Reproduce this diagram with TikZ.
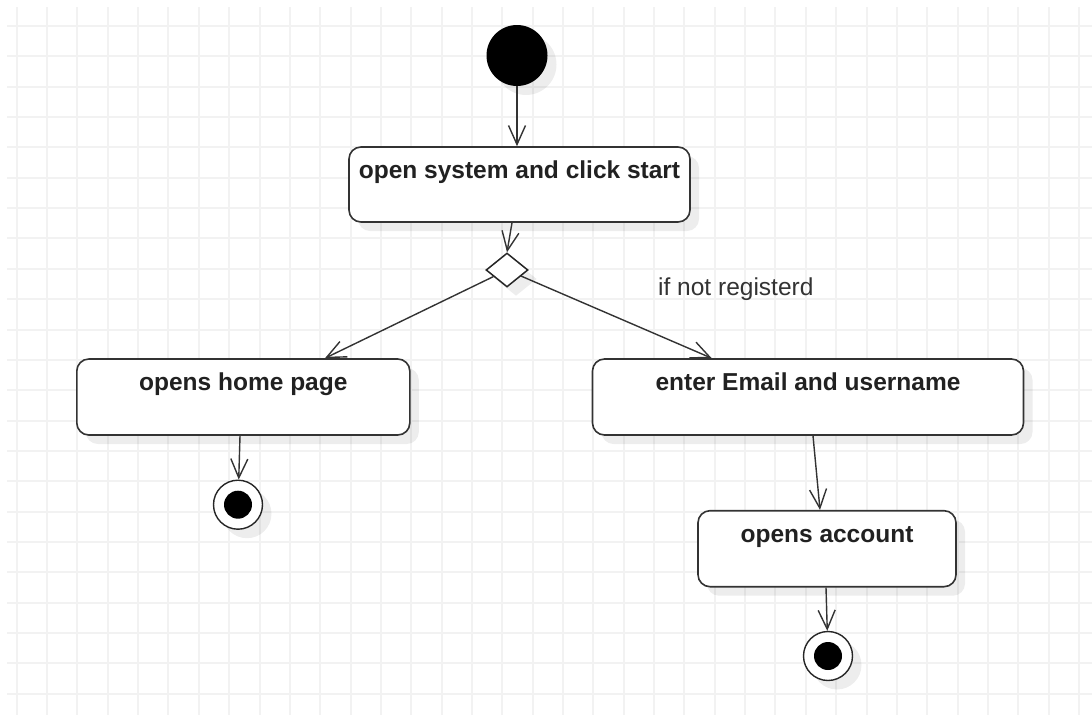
\documentclass[tikz,border=0pt]{standalone}
\usepackage{fontspec}
\setmainfont{Liberation Sans}
\usetikzlibrary{arrows.meta,shapes.geometric,shadows}

\begin{document}
\begin{tikzpicture}[x=1pt,y=-1pt,
  gridline/.style={draw=gray!10, line width=1.4pt},
  softshadow/.style={drop shadow={shadow xshift=9pt, shadow yshift=-9pt, fill=black, opacity=0.07}},
  activity/.style={draw=black!80, line width=1.6pt, rounded corners=12pt, fill=white, softshadow, inner sep=0pt},
  lbl/.style={font=\bfseries\fontsize{24.5}{29}\selectfont, text=black!87, anchor=base, inner sep=0pt},
  flow/.style={draw=black!80, line width=1.4pt, -{Straight Barb[length=19pt,width=17pt]}},
  finalring/.style={circle, draw=black!85, line width=1.4pt, fill=white, minimum size=49pt, inner sep=0pt, softshadow},
  finaldot/.style={circle, fill=black, minimum size=28pt, inner sep=0pt}
]
\useasboundingbox (0,0) rectangle (1092,715);
\fill[white] (0,0) rectangle (1092,715);

% background grid, lines snapped to whole units
\foreach \i in {0,...,35}{
  \pgfmathsetmacro{\gx}{round(16.7+30.35*\i)}
  \draw[gridline] (\gx,7) -- (\gx,715);
}
\foreach \j in {0,...,22}{
  \pgfmathsetmacro{\gy}{round(26+30.35*\j)}
  \draw[gridline] (7,\gy) -- (1092,\gy);
}

% initial node
\node[circle, fill=black, minimum size=61pt, inner sep=0pt, softshadow] (start) at (517,55.5) {};

% activities
\node[activity, minimum width=341pt, minimum height=75pt] (b1) at (519.5,184.5) {};
\node[lbl] (t1) at ([yshift=-32.5pt]b1.north) {open system and click start};

\node[diamond, draw=black!85, line width=1.5pt, fill=white, minimum width=42pt, minimum height=34pt, inner sep=0pt, softshadow] (dec) at (507,270) {};

\node[activity, minimum width=333pt, minimum height=76pt] (b2) at (243.3,397) {};
\node[lbl] (t2) at ([yshift=-32.5pt]b2.north) {opens home page};

\node[activity, minimum width=431pt, minimum height=76pt] (b3) at (808,397) {};
\node[lbl] (t3) at ([yshift=-32.5pt]b3.north) {enter Email and username};

\node[activity, minimum width=258pt, minimum height=76pt] (b4) at (827,548.7) {};
\node[lbl] (t4) at ([yshift=-32.5pt]b4.north) {opens account};

% final nodes
\node[finalring] (end1) at (238,504.7) {};
\node[finaldot] (end1dot) at (end1) {};
\node[finalring] (end2) at (828,656) {};
\node[finaldot] (end2dot) at (end2) {};

% guard label
\node[anchor=base west, font=\fontsize{24.5}{29}\selectfont, text=black!80, inner sep=0pt] (cond) at (658,295) {if not registerd};

% control flows
\draw[flow] (start) -- (start |- b1.north);
\draw[flow] ([xshift=-7.5pt]b1.south) -- (dec.north);
\draw[flow] (dec) -- ([xshift=81.7pt]b2.north);
\draw[flow] (dec) -- ([xshift=-96.3pt]b3.north);
\draw[flow] ([xshift=-3.3pt]b2.south) -- (end1);
\draw[flow] ([xshift=5pt]b3.south) -- ([xshift=-7pt]b4.north);
\draw[flow] ([xshift=-1pt]b4.south) -- (end2);
\end{tikzpicture}
\end{document}
